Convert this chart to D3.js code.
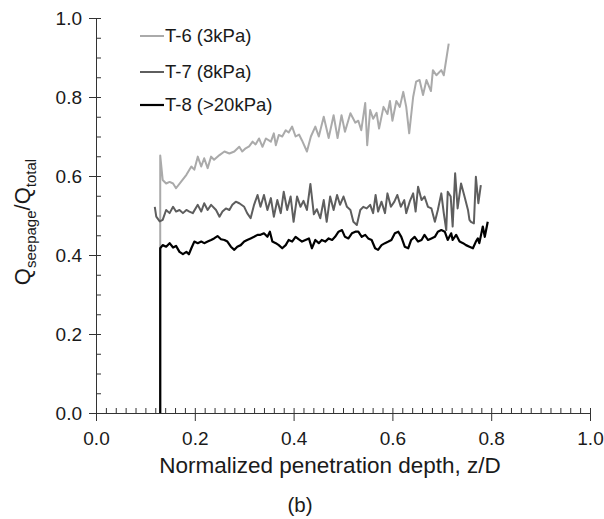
<!DOCTYPE html>
<html>
<head>
<meta charset="utf-8">
<script src="https://cdn.jsdelivr.net/npm/d3@7"></script>
<style>
  html, body { margin: 0; padding: 0; background: #fff; }
  svg { display: block; font-family: "Liberation Sans", Arial, sans-serif; }
</style>
</head>
<body>
<svg id="chart" width="604" height="519"></svg>
<script>
// ---- data ----
const seriesNames = ["T-6 (3kPa)", "T-7 (8kPa)", "T-8 (>20kPa)"];
const xTicks = [0, 0.2, 0.4, 0.6, 0.8, 1.0];
const yTicks = [0, 0.2, 0.4, 0.6, 0.8, 1.0];

const t6 = [[0.130,0],[0.130,0.652],[0.135,0.59],[0.142,0.581],[0.149,0.585],[0.156,0.581],[0.162,0.569],[0.172,0.585],[0.183,0.603],[0.193,0.624],[0.199,0.616],[0.206,0.649],[0.213,0.624],[0.219,0.645],[0.226,0.62],[0.233,0.649],[0.239,0.641],[0.250,0.653],[0.260,0.662],[0.270,0.657],[0.280,0.662],[0.290,0.674],[0.296,0.662],[0.303,0.670],[0.310,0.675],[0.317,0.687],[0.323,0.68],[0.330,0.695],[0.337,0.674],[0.344,0.695],[0.354,0.687],[0.360,0.708],[0.364,0.678],[0.370,0.704],[0.377,0.70],[0.384,0.716],[0.390,0.71],[0.397,0.725],[0.404,0.70],[0.411,0.705],[0.417,0.69],[0.427,0.662],[0.435,0.70],[0.444,0.725],[0.451,0.70],[0.461,0.75],[0.471,0.696],[0.481,0.754],[0.489,0.696],[0.497,0.754],[0.504,0.712],[0.515,0.759],[0.525,0.735],[0.531,0.74],[0.537,0.716],[0.545,0.785],[0.549,0.678],[0.555,0.767],[0.561,0.745],[0.568,0.76],[0.573,0.72],[0.582,0.775],[0.590,0.757],[0.595,0.79],[0.600,0.74],[0.608,0.79],[0.615,0.775],[0.622,0.813],[0.628,0.775],[0.634,0.708],[0.642,0.80],[0.648,0.839],[0.655,0.843],[0.662,0.805],[0.669,0.843],[0.678,0.815],[0.682,0.868],[0.689,0.855],[0.699,0.868],[0.704,0.855],[0.709,0.895],[0.714,0.935]];

const t7 = [[0.119,0.522],[0.122,0.497],[0.129,0.485],[0.135,0.489],[0.142,0.514],[0.149,0.506],[0.156,0.522],[0.162,0.510],[0.169,0.514],[0.176,0.506],[0.183,0.514],[0.189,0.510],[0.196,0.506],[0.206,0.527],[0.213,0.510],[0.219,0.531],[0.226,0.514],[0.233,0.527],[0.243,0.514],[0.250,0.497],[0.256,0.510],[0.263,0.518],[0.270,0.514],[0.276,0.527],[0.283,0.535],[0.290,0.531],[0.300,0.522],[0.306,0.506],[0.313,0.493],[0.320,0.527],[0.327,0.552],[0.333,0.522],[0.340,0.552],[0.347,0.514],[0.354,0.544],[0.360,0.497],[0.367,0.539],[0.374,0.506],[0.380,0.560],[0.387,0.514],[0.394,0.548],[0.400,0.484],[0.407,0.548],[0.414,0.522],[0.420,0.537],[0.427,0.514],[0.434,0.580],[0.441,0.503],[0.447,0.516],[0.454,0.493],[0.461,0.539],[0.467,0.484],[0.474,0.548],[0.481,0.514],[0.488,0.552],[0.494,0.527],[0.501,0.548],[0.508,0.522],[0.515,0.514],[0.521,0.484],[0.528,0.476],[0.535,0.514],[0.541,0.522],[0.548,0.518],[0.555,0.527],[0.561,0.506],[0.566,0.552],[0.571,0.510],[0.578,0.535],[0.585,0.506],[0.590,0.556],[0.597,0.522],[0.604,0.535],[0.610,0.552],[0.617,0.522],[0.624,0.539],[0.628,0.506],[0.635,0.535],[0.642,0.556],[0.647,0.510],[0.652,0.573],[0.659,0.539],[0.665,0.548],[0.672,0.522],[0.679,0.518],[0.686,0.484],[0.692,0.514],[0.699,0.556],[0.704,0.506],[0.709,0.463],[0.712,0.560],[0.718,0.548],[0.722,0.472],[0.727,0.607],[0.732,0.518],[0.739,0.581],[0.746,0.548],[0.753,0.514],[0.756,0.489],[0.759,0.484],[0.765,0.480],[0.769,0.598],[0.774,0.531],[0.779,0.577]];

const t8 = [[0.130,0],[0.130,0.417],[0.135,0.425],[0.142,0.421],[0.149,0.430],[0.156,0.419],[0.162,0.423],[0.169,0.408],[0.176,0.402],[0.183,0.408],[0.188,0.402],[0.193,0.417],[0.199,0.434],[0.206,0.430],[0.213,0.434],[0.219,0.430],[0.226,0.434],[0.233,0.438],[0.239,0.442],[0.246,0.448],[0.253,0.440],[0.260,0.438],[0.266,0.434],[0.273,0.421],[0.280,0.413],[0.286,0.421],[0.293,0.425],[0.300,0.434],[0.306,0.438],[0.313,0.442],[0.320,0.446],[0.327,0.451],[0.333,0.451],[0.340,0.455],[0.347,0.446],[0.352,0.459],[0.357,0.434],[0.364,0.430],[0.370,0.425],[0.377,0.417],[0.384,0.425],[0.390,0.438],[0.397,0.434],[0.404,0.446],[0.410,0.440],[0.417,0.434],[0.424,0.438],[0.431,0.442],[0.437,0.417],[0.444,0.438],[0.451,0.430],[0.457,0.438],[0.464,0.434],[0.471,0.442],[0.478,0.438],[0.484,0.446],[0.491,0.459],[0.498,0.463],[0.504,0.446],[0.511,0.442],[0.518,0.455],[0.525,0.459],[0.531,0.459],[0.538,0.446],[0.545,0.451],[0.551,0.442],[0.558,0.438],[0.565,0.417],[0.571,0.413],[0.578,0.425],[0.585,0.430],[0.592,0.434],[0.598,0.438],[0.605,0.455],[0.612,0.459],[0.618,0.446],[0.625,0.421],[0.632,0.417],[0.638,0.438],[0.645,0.446],[0.652,0.434],[0.659,0.438],[0.665,0.451],[0.672,0.438],[0.679,0.442],[0.686,0.446],[0.692,0.459],[0.699,0.463],[0.706,0.459],[0.712,0.438],[0.719,0.455],[0.722,0.438],[0.729,0.451],[0.736,0.434],[0.743,0.430],[0.749,0.425],[0.756,0.421],[0.763,0.417],[0.769,0.434],[0.773,0.442],[0.776,0.430],[0.783,0.472],[0.787,0.446],[0.793,0.484]];

// ---- layout ----
const svg = d3.select("#chart");
const mLeft = 96, mRight = 590, mTop = 18, mBottom = 413;
const x = d3.scaleLinear().domain([0, 1]).range([mLeft, mRight]);
const y = d3.scaleLinear().domain([0, 1]).range([mBottom, mTop]);

const colors = ["#aaaaaa", "#5e5e5e", "#000000"];
const widths = [2, 2, 2.2];

// minor ticks
const xMinor = d3.range(0, 51).map(i => i * 0.02);
const yMinor = d3.range(0, 21).map(i => i * 0.05);

const axisColor = "#333";
const txtColor = "#1a1a1a";
const fontFam = "'Liberation Sans', Arial, sans-serif";

// x axis
const gx = svg.append("g").attr("transform", `translate(0,${mBottom})`);
gx.call(d3.axisBottom(x).tickValues(xMinor).tickSize(-5).tickFormat("").tickSizeOuter(0));
gx.call(g => g.select(".domain").remove());
const gx2 = svg.append("g").attr("transform", `translate(0,${mBottom})`);
gx2.call(d3.axisBottom(x).tickValues(xTicks).tickSize(8).tickPadding(11).tickSizeOuter(0).tickFormat(d3.format(".1f")));
gx2.selectAll("text").attr("font-size", 19).attr("fill", txtColor).attr("font-family", fontFam);

// y axis
const gy = svg.append("g").attr("transform", `translate(${mLeft},0)`);
gy.call(d3.axisRight(y).tickValues(yMinor).tickSize(5).tickFormat("").tickSizeOuter(0));
gy.call(g => g.select(".domain").remove());
const gy2 = svg.append("g").attr("transform", `translate(${mLeft},0)`);
gy2.call(d3.axisLeft(y).tickValues(yTicks).tickSize(7).tickPadding(7).tickSizeOuter(0).tickFormat(d3.format(".1f")));
gy2.selectAll("text").attr("font-size", 19).attr("fill", txtColor).attr("font-family", fontFam);

svg.selectAll(".tick line").attr("stroke", axisColor);
svg.selectAll(".domain").attr("stroke", axisColor);

// lines
const line = d3.line().x(d => x(d[0])).y(d => y(d[1]));
[t6, t7, t8].forEach((s, i) => {
  svg.append("path").datum(s).attr("d", line)
    .attr("fill", "none").attr("stroke", colors[i]).attr("stroke-width", widths[i])
    .attr("stroke-linejoin", "round");
});

// legend
const legY = [36, 72, 105];
seriesNames.forEach((n, i) => {
  svg.append("line").attr("x1", 140).attr("x2", 164).attr("y1", legY[i]).attr("y2", legY[i])
    .attr("stroke", colors[i]).attr("stroke-width", widths[i]);
  svg.append("text").attr("x", 165).attr("y", legY[i]).attr("dy", "0.35em")
    .attr("font-size", 18.5).attr("fill", txtColor).text(n);
});

// axis titles
svg.append("text").attr("x", 330).attr("y", 473).attr("text-anchor", "middle")
  .attr("font-size", 22.5).attr("fill", txtColor).text("Normalized penetration depth, z/D");

svg.append("text").attr("x", 300).attr("y", 512).attr("text-anchor", "middle")
  .attr("font-size", 20.5).attr("fill", txtColor).text("(b)");

const yl = svg.append("text").attr("transform", "translate(30,222) rotate(-90)")
  .attr("text-anchor", "middle").attr("font-size", 22).attr("fill", txtColor);
yl.append("tspan").text("Q");
yl.append("tspan").attr("font-size", 15).attr("dy", 6).text("seepage");
yl.append("tspan").attr("dy", -6).text("/Q");
yl.append("tspan").attr("font-size", 15).attr("dy", 6).text("total");
</script>
</body>
</html>
